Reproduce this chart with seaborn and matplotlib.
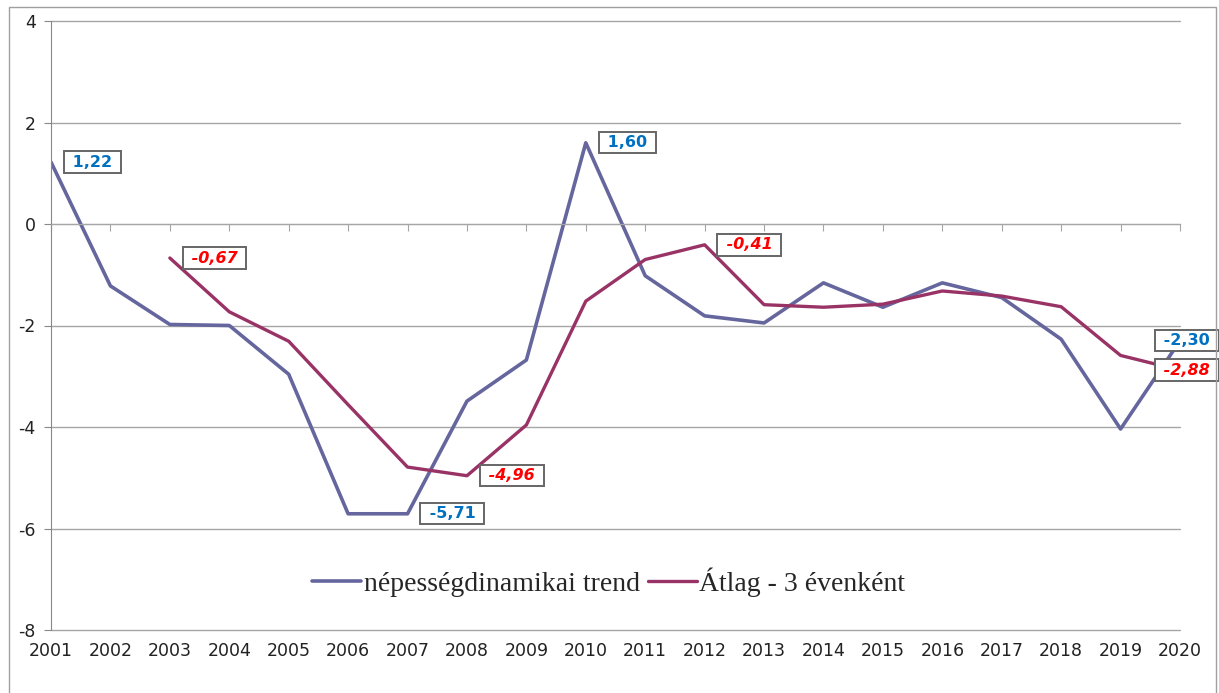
import numpy as np
import matplotlib
matplotlib.use('Agg')
import matplotlib.pyplot as plt
import pandas as pd
import seaborn as sns


# ------------------
# データ
# ------------------
YEARS = list(range(2001, 2021))
TREND = [1.22, -1.22, -1.98, -2.00, -2.96, -5.71, -5.71, -3.49, -2.68, 1.60,
         -1.02, -1.81, -1.95, -1.16, -1.64, -1.16, -1.45, -2.27, -4.04, -2.30]
AVG3 = [np.nan, np.nan, -0.67, -1.73, -2.31, -3.56, -4.79, -4.96, -3.96, -1.52,
        -0.70, -0.41, -1.59, -1.64, -1.58, -1.32, -1.42, -1.63, -2.59, -2.88]
TREND_NAME = 'népességdinamikai trend'
AVG_NAME = 'Átlag - 3 évenként'
YTICKS = [-8, -6, -4, -2, 0, 2, 4]

# ラベルを付ける点 (年, 右/左)
TREND_LABELS = {2001: 'r', 2007: 'r', 2010: 'r', 2020: 'l'}
AVG_LABELS = {2003: 'r', 2008: 'r', 2012: 'r', 2020: 'l'}

BLUE = '#66669E'
RED = '#993366'
GRID = '#A6A6A6'


def fmt(v):
    return ' ' + f'{v:.2f}'.replace('.', ',') + ' '


def main():
    df = pd.DataFrame({'year': YEARS, 'trend': TREND, 'avg': AVG3})

    sns.set_style('white')
    plt.rcParams['font.family'] = ['DejaVu Sans']

    fig = plt.figure(figsize=(12.19, 6.93), dpi=100)
    ax = fig.add_axes([51 / 1219, 1 - 630 / 693, 1129 / 1219, 609 / 693])

    sns.lineplot(data=df, x='year', y='trend', ax=ax, color=BLUE, lw=2.6,
                 label=TREND_NAME)
    sns.lineplot(data=df, x='year', y='avg', ax=ax, color=RED, lw=2.4,
                 label=AVG_NAME)

    ax.set_xlim(2001, 2020)
    ax.set_ylim(-8, 4)
    ax.set_yticks(YTICKS)
    ax.set_yticklabels([str(t) for t in YTICKS], fontsize=12.5, color='#222222')
    ax.set_xlabel('')
    ax.set_ylabel('')

    # 横グリッド
    ax.grid(axis='y', color=GRID, lw=1.0)
    ax.grid(axis='x', visible=False)
    for gl in ax.get_ygridlines():
        gl.set_clip_on(False)
    for s in ['top', 'right']:
        ax.spines[s].set_visible(False)
    ax.spines['left'].set_color('#888888')
    ax.spines['bottom'].set_color(GRID)
    ax.spines['bottom'].set_position(('data', 0))
    ax.tick_params(axis='y', left=True, length=5, color='#888888', pad=6)

    # x軸は0の位置に目盛り、ラベルは下側
    ax.set_xticks(YEARS)
    ax.tick_params(axis='x', bottom=True, length=5, color=GRID, labelbottom=False)
    sec = ax.secondary_xaxis(0.0)
    sec.set_xticks(YEARS)
    sec.set_xticklabels([str(y) for y in YEARS], fontsize=12.5, color='#222222')
    sec.tick_params(length=0, pad=9)
    sec.spines['bottom'].set_visible(False)

    # データラベル
    box = dict(boxstyle='square,pad=0.2', fc='white', ec='#666666', lw=1.4)
    for yr, side in TREND_LABELS.items():
        v = TREND[YEARS.index(yr)]
        dx = 16 if side == 'r' else -22
        ax.annotate(fmt(v), (yr, v), xytext=(dx, 0), textcoords='offset pixels',
                    ha='left', va='center',
                    fontsize=11.5, fontweight='bold', color='#0070C0', bbox=box,
                    annotation_clip=False)
    for yr, side in AVG_LABELS.items():
        v = AVG3[YEARS.index(yr)]
        dx = 16 if side == 'r' else -22
        ax.annotate(fmt(v), (yr, v), xytext=(dx, 0), textcoords='offset pixels',
                    ha='left', va='center',
                    fontsize=11.5, fontweight='bold', fontstyle='italic',
                    color='#FF0000', bbox=box, annotation_clip=False)

    # 凡例
    ax.legend(loc='center', bbox_to_anchor=(0.494, 0.079), ncol=2, frameon=False,
              prop={'family': 'Liberation Serif', 'size': 20},
              handlelength=1.75, handletextpad=0.1, columnspacing=0.3)

    # 外枠
    fig.patches.append(plt.Rectangle((9 / 1219, -0.05), 1207 / 1219, 1.05 - 7 / 693,
                                     transform=fig.transFigure, fill=False,
                                     ec='#A0A0A0', lw=1.0))

    fig.savefig('out.png', dpi=100)


if __name__ == '__main__':
    main()
